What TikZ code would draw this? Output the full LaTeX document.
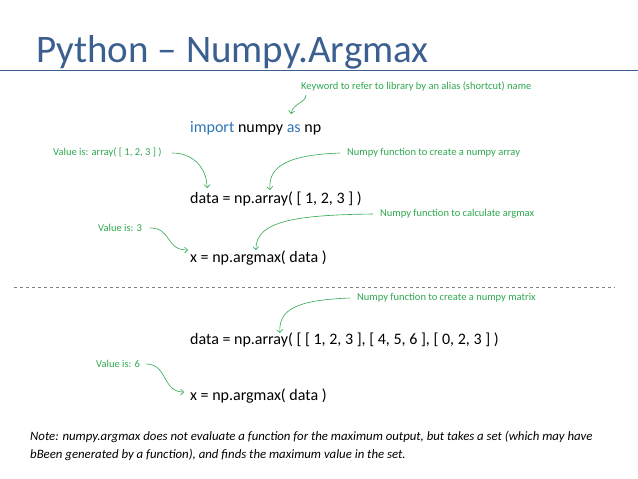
\documentclass[tikz,border=0pt]{standalone}
\usepackage{fontspec}
\setmainfont{Carlito}
\usetikzlibrary{arrows.meta}
\definecolor{titleblue}{HTML}{3B5F8F}
\definecolor{kw}{HTML}{2E75B6}
\definecolor{grn}{HTML}{2EA84F}
\tikzset{
  code/.style={anchor=west,inner sep=0pt,font=\fontsize{16}{18}\selectfont},
  note/.style={anchor=west,inner sep=0pt,text=grn,font=\fontsize{10.5}{12}\selectfont},
  callout/.style={draw=grn,line width=0.6pt,-{Straight Barb[length=3pt,width=6pt]}},
}
\begin{document}
\begin{tikzpicture}[x=1pt,y=-1pt]
\useasboundingbox (0,0) rectangle (638,479);
\node[anchor=base west,inner sep=0pt,text=titleblue,font=\fontsize{39}{42}\selectfont] (title) at (36,62) {Python – Numpy.Argmax};
\draw[titleblue,line width=1pt] (0,70) -- (638,70);
\node[note] (kwn) at (301,87) {Keyword to refer to library by an alias (shortcut) name};
\node[code] (imp) at (190,128) {\textcolor{kw}{import} numpy \textcolor{kw}{as} np};
\node[note] (v1) at (53,153) {Value is: array( [ 1, 2, 3 ] )};
\node[note] (n1) at (347,153) {Numpy function to create a numpy array};
\node[code] (d1) at (190,199) {data = np.array( [ 1, 2, 3 ] )};
\node[note] (n2) at (380,214) {Numpy function to calculate argmax};
\node[note] (v2) at (98,228) {Value is: 3};
\node[code] (x1) at (190,258) {x = np.argmax( data )};
\draw[dashed,gray,line width=0.5pt] (14,287) -- (615,287);
\node[note] (n3) at (357,298) {Numpy function to create a numpy matrix};
\node[code] (d2) at (190,340) {data = np.array( [ [ 1, 2, 3 ], [ 4, 5, 6 ], [ 0, 2, 3 ] )};
\node[note] (v3) at (96,364) {Value is: 6};
\node[code] (x2) at (190,396) {x = np.argmax( data )};
\node[anchor=west,inner sep=0pt,align=left,font=\itshape\fontsize{12.8}{18}\selectfont] (note) at (30,446) {Note: numpy.argmax does not evaluate a function for the maximum output, but takes a set (which may have\\bBeen generated by a function), and finds the maximum value in the set.};
\coordinate (a1) at (306,95); \coordinate (b1) at (291,114);
\draw[callout] (a1) .. controls (306,103) and (293,103) .. (b1);
\coordinate (a2) at (172,153); \coordinate (b2) at (207,188);
\draw[callout] (a2) .. controls (195,153) and (207,170) .. (b2);
\coordinate (a3) at (340,153); \coordinate (b3) at (270,190);
\draw[callout] (a3) .. controls (290,155) and (268,165) .. (b3);
\coordinate (a4) at (373,214); \coordinate (b4) at (256,250);
\draw[callout] (a4) .. controls (300,215) and (255,220) .. (b4);
\coordinate (a5) at (150,228); \coordinate (b5) at (188,250);
\draw[callout] (a5) .. controls (172,228) and (165,250) .. (b5);
\coordinate (a6) at (350,298); \coordinate (b6) at (280,333);
\draw[callout] (a6) .. controls (300,300) and (278,308) .. (b6);
\coordinate (a7) at (146,364); \coordinate (b7) at (184,392);
\draw[callout] (a7) .. controls (168,364) and (162,392) .. (b7);
\end{tikzpicture}
\end{document}
